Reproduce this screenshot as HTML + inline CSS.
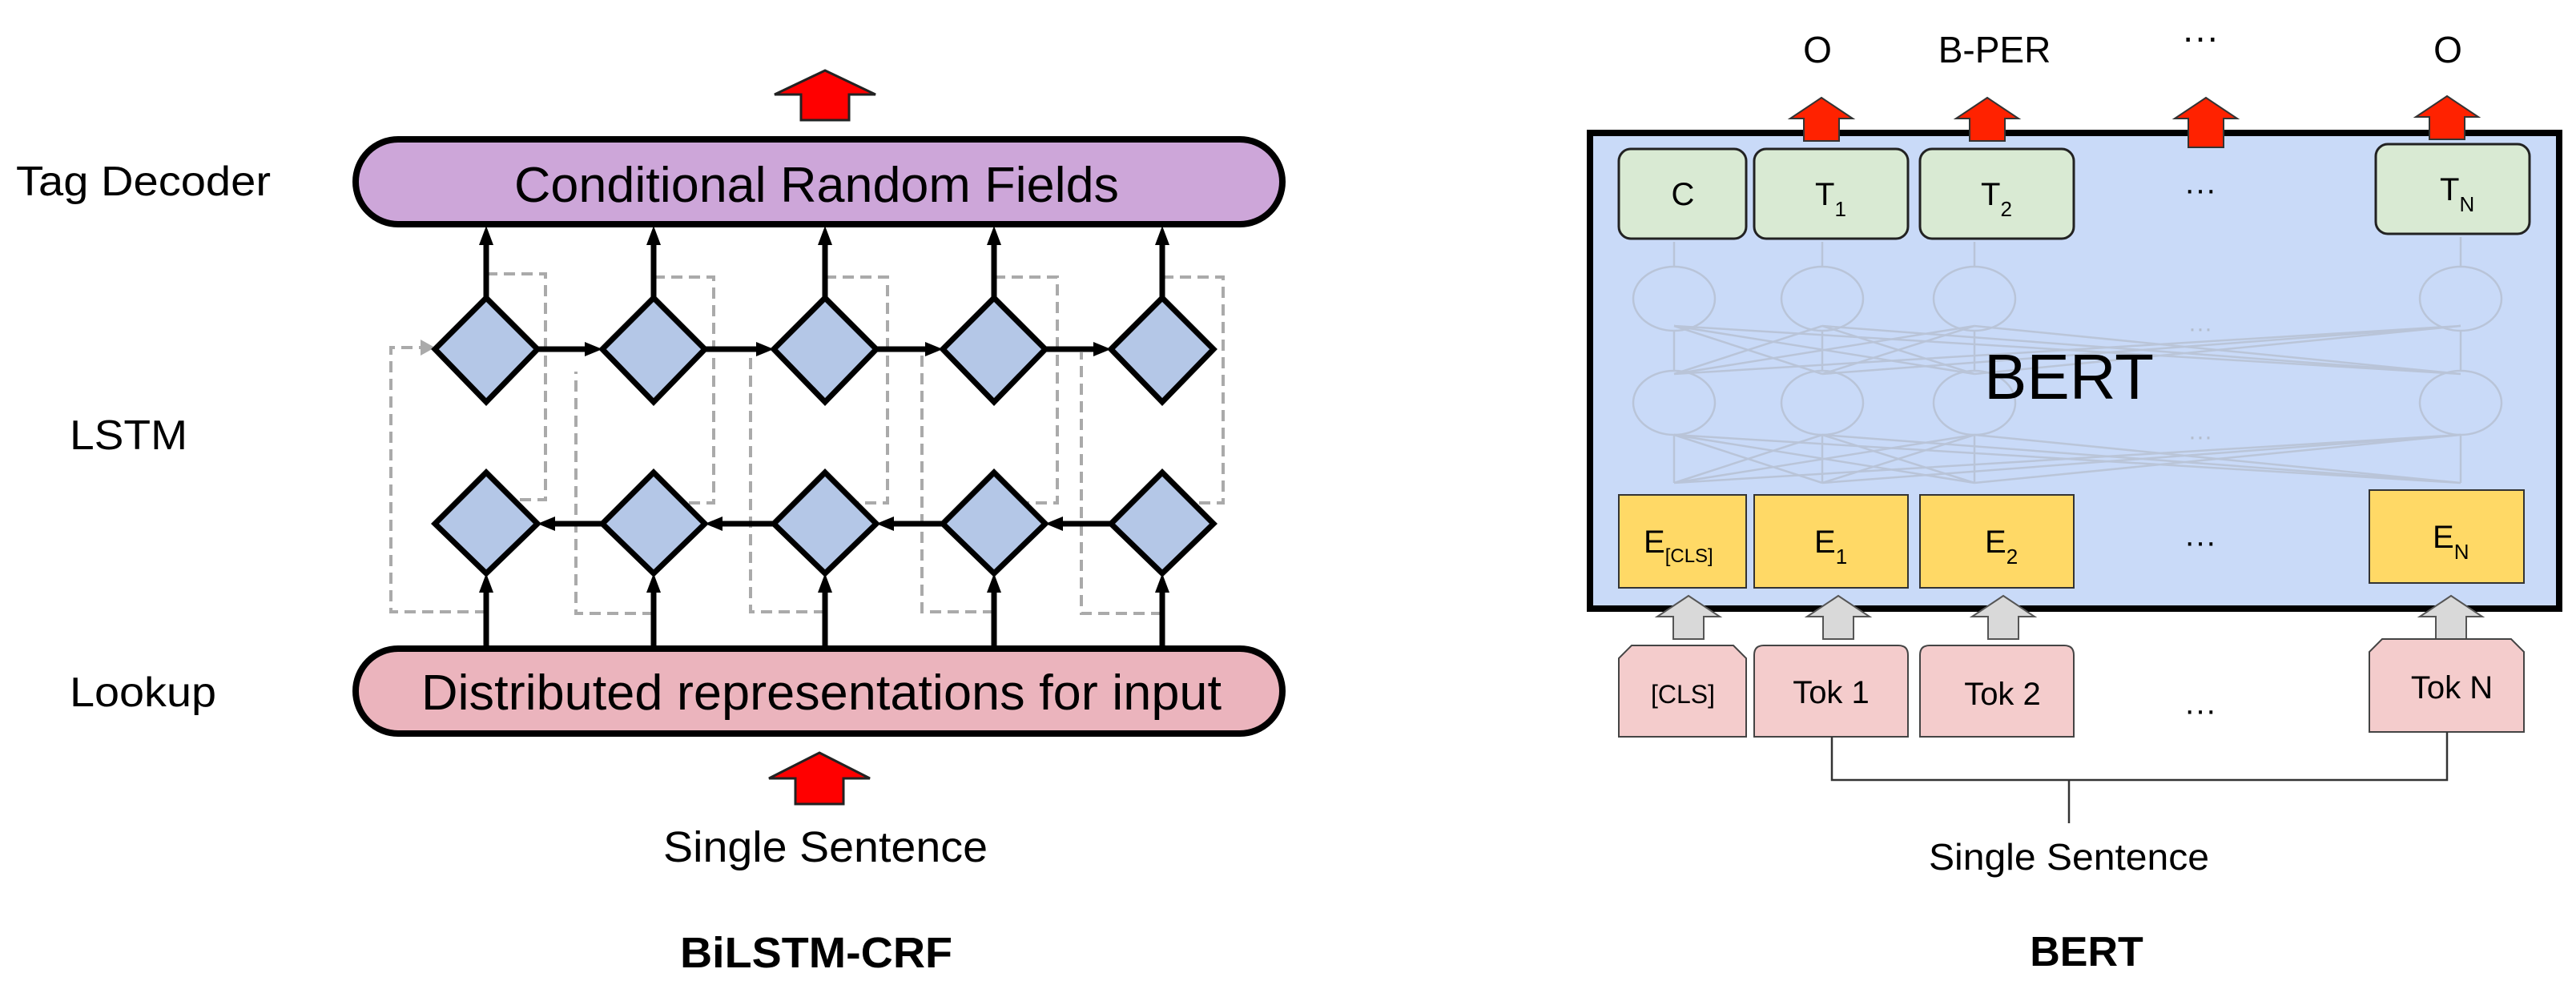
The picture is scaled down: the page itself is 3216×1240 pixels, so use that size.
<!DOCTYPE html>
<html><head><meta charset="utf-8"><style>
html,body{margin:0;padding:0;background:#fff;}
svg{display:block;font-family:"Liberation Sans",Arial,sans-serif;}
</style></head><body>
<svg width="3216" height="1240" viewBox="0 0 3216 1240" xmlns="http://www.w3.org/2000/svg">
<rect width="3216" height="1240" fill="#fff"/>
<!-- LEFT PANEL -->
<text x="20" y="244" font-size="52" textLength="318" lengthAdjust="spacingAndGlyphs">Tag Decoder</text>
<text x="87" y="561" font-size="52" textLength="147" lengthAdjust="spacingAndGlyphs">LSTM</text>
<text x="87" y="882" font-size="52" textLength="183" lengthAdjust="spacingAndGlyphs">Lookup</text>

<polygon points="1030,88 1093,118 1060,118 1060,150 1000,150 1000,118 967,118" fill="#ff0000" stroke="#222" stroke-width="3"/>
<rect x="444" y="174" width="1157" height="106" rx="53" fill="#cda6d9" stroke="#000" stroke-width="8"/>
<text x="642" y="252" font-size="62" textLength="755" lengthAdjust="spacingAndGlyphs">Conditional Random Fields</text>
<rect x="444" y="810" width="1157" height="106" rx="53" fill="#ebb4bd" stroke="#000" stroke-width="8"/>
<text x="526" y="886" font-size="62" textLength="999" lengthAdjust="spacingAndGlyphs">Distributed representations for input</text>

<g fill="none" stroke="#aaa" stroke-width="4" stroke-dasharray="14 8">
<path d="M607,342 H681 V624 H644"/>
<path d="M816,346 H891 V628 H852"/>
<path d="M1030,346 H1108 V628 H1066"/>
<path d="M1241,346 H1320 V628 H1277"/>
<path d="M1451,346 H1527 V628 H1487"/>
<path d="M607,764 H488 V434 H530"/>
<path d="M816,766 H719 V464"/>
<path d="M1030,764 H937 V440"/>
<path d="M1241,764 H1151 V440"/>
<path d="M1451,766 H1350 V440"/>
</g>
<polygon points="543,434 525,424 525,444" fill="#aaa"/>

<g stroke="#000" stroke-width="7" fill="none">
<line x1="607" y1="372" x2="607" y2="300"/><line x1="816" y1="372" x2="816" y2="300"/><line x1="1030" y1="372" x2="1030" y2="300"/><line x1="1241" y1="372" x2="1241" y2="300"/><line x1="1451" y1="372" x2="1451" y2="300"/>
<line x1="607" y1="810" x2="607" y2="736"/><line x1="816" y1="810" x2="816" y2="736"/><line x1="1030" y1="810" x2="1030" y2="736"/><line x1="1241" y1="810" x2="1241" y2="736"/><line x1="1451" y1="810" x2="1451" y2="736"/>
<line x1="671" y1="436" x2="735" y2="436"/><line x1="880" y1="436" x2="949" y2="436"/><line x1="1094" y1="436" x2="1160" y2="436"/><line x1="1305" y1="436" x2="1370" y2="436"/>
<line x1="752" y1="654" x2="689" y2="654"/><line x1="966" y1="654" x2="898" y2="654"/><line x1="1177" y1="654" x2="1112" y2="654"/><line x1="1387" y1="654" x2="1323" y2="654"/>
</g>
<g fill="#000">
<polygon points="607,282 598,306 616,306"/><polygon points="816,282 807,306 825,306"/><polygon points="1030,282 1021,306 1039,306"/><polygon points="1241,282 1232,306 1250,306"/><polygon points="1451,282 1442,306 1460,306"/>
<polygon points="607,716 598,740 616,740"/><polygon points="816,716 807,740 825,740"/><polygon points="1030,716 1021,740 1039,740"/><polygon points="1241,716 1232,740 1250,740"/><polygon points="1451,716 1442,740 1460,740"/>
<polygon points="752,436 730,427 730,445"/><polygon points="966,436 944,427 944,445"/><polygon points="1177,436 1155,427 1155,445"/><polygon points="1387,436 1365,427 1365,445"/>
<polygon points="671,654 693,645 693,663"/><polygon points="880,654 902,645 902,663"/><polygon points="1094,654 1116,645 1116,663"/><polygon points="1305,654 1327,645 1327,663"/>
</g>
<g fill="#b4c7e7" stroke="#000" stroke-width="7" stroke-linejoin="miter">
<polygon points="607,372 671,436 607,502 543,436"/>
<polygon points="816,372 880,436 816,502 752,436"/>
<polygon points="1030,372 1094,436 1030,502 966,436"/>
<polygon points="1241,372 1305,436 1241,502 1177,436"/>
<polygon points="1451,372 1515,436 1451,502 1387,436"/>
<polygon points="607,590 671,654 607,716 543,654"/>
<polygon points="816,590 880,654 816,716 752,654"/>
<polygon points="1030,590 1094,654 1030,716 966,654"/>
<polygon points="1241,590 1305,654 1241,716 1177,654"/>
<polygon points="1451,590 1515,654 1451,716 1387,654"/>
</g>
<polygon points="1023,940 1086,972 1053,972 1053,1004 993,1004 993,972 960,972" fill="#ff0000" stroke="#222" stroke-width="3"/>
<text x="828" y="1076" font-size="54" textLength="405" lengthAdjust="spacingAndGlyphs">Single Sentence</text>
<text x="849" y="1208" font-size="54" font-weight="bold" textLength="340" lengthAdjust="spacingAndGlyphs">BiLSTM-CRF</text>

<!-- RIGHT PANEL -->
<g font-size="46" text-anchor="middle">
<text x="2269" y="78">O</text>
<text x="2490" y="78">B-PER</text>
<text x="2747" y="62">···</text>
<text x="3056" y="78">O</text>
</g>
<rect x="1985" y="166" width="1210" height="594" fill="#c9daf8" stroke="#000" stroke-width="8"/>
<g stroke="#b3bccb" stroke-width="2.5" fill="none" opacity="0.7">
<ellipse cx="2090" cy="373" rx="51" ry="40"/><ellipse cx="2275" cy="373" rx="51" ry="40"/><ellipse cx="2465" cy="373" rx="51" ry="40"/><ellipse cx="3072" cy="373" rx="51" ry="40"/>
<ellipse cx="2090" cy="503" rx="51" ry="40"/><ellipse cx="2275" cy="503" rx="51" ry="40"/><ellipse cx="2465" cy="503" rx="51" ry="40"/><ellipse cx="3072" cy="503" rx="51" ry="40"/>
<line x1="2090" y1="333" x2="2090" y2="302"/><line x1="2275" y1="333" x2="2275" y2="302"/><line x1="2465" y1="333" x2="2465" y2="302"/><line x1="3072" y1="333" x2="3072" y2="296"/>
<line x1="2090" y1="463" x2="2090" y2="413"/><line x1="2275" y1="463" x2="2275" y2="413"/><line x1="2465" y1="463" x2="2465" y2="413"/><line x1="3072" y1="463" x2="3072" y2="413"/>
<line x1="2090" y1="603" x2="2090" y2="543"/><line x1="2275" y1="603" x2="2275" y2="543"/><line x1="2465" y1="603" x2="2465" y2="543"/><line x1="3072" y1="603" x2="3072" y2="543"/>
<path d="M2090,467 L2275,407 M2090,467 L2465,407 M2090,467 L3072,407 M2275,467 L2090,407 M2275,467 L2465,407 M2275,467 L3072,407 M2465,467 L2090,407 M2465,467 L2275,407 M2465,467 L3072,407 M3072,467 L2090,407 M3072,467 L2275,407 M3072,467 L2465,407"/>
<path d="M2090,603 L2275,543 M2090,603 L2465,543 M2090,603 L3072,543 M2275,603 L2090,543 M2275,603 L2465,543 M2275,603 L3072,543 M2465,603 L2090,543 M2465,603 L2275,543 M2465,603 L3072,543 M3072,603 L2090,543 M3072,603 L2275,543 M3072,603 L2465,543"/>
</g>
<text x="2747" y="420" font-size="30" fill="#b3bccb" text-anchor="middle">···</text>
<text x="2747" y="555" font-size="30" fill="#b3bccb" text-anchor="middle">···</text>
<text x="2583" y="498" font-size="80" text-anchor="middle">BERT</text>
<g fill="#ff2200" stroke="#333" stroke-width="2">
<polygon points="2274,122 2313,148 2296,148 2296,176 2252,176 2252,148 2235,148"/>
<polygon points="2481,122 2520,148 2503,148 2503,176 2459,176 2459,148 2442,148"/>
<polygon points="2754,122 2793,148 2776,148 2776,184 2732,184 2732,148 2715,148"/>
<polygon points="3055,120 3094,146 3077,146 3077,174 3033,174 3033,146 3016,146"/>
</g>
<g fill="#d9ead3" stroke="#222" stroke-width="3">
<rect x="2021" y="186" width="159" height="112" rx="15"/>
<rect x="2190" y="186" width="192" height="112" rx="15"/>
<rect x="2397" y="186" width="192" height="112" rx="15"/>
<rect x="2966" y="180" width="192" height="112" rx="15"/>
</g>
<g font-size="40">
<text x="2101" y="256" text-anchor="middle">C</text>
<text x="2266" y="256">T<tspan font-size="26" dy="14">1</tspan></text>
<text x="2473" y="256">T<tspan font-size="26" dy="14">2</tspan></text>
<text x="3046" y="250">T<tspan font-size="26" dy="14">N</tspan></text>
<text x="2747" y="250" text-anchor="middle">···</text>
<text x="2747" y="690" text-anchor="middle">···</text>
<text x="2747" y="900" text-anchor="middle">···</text>
</g>
<g fill="#ffd966" stroke="#333" stroke-width="2">
<rect x="2021" y="618" width="159" height="116"/>
<rect x="2190" y="618" width="192" height="116"/>
<rect x="2397" y="618" width="192" height="116"/>
<rect x="2958" y="612" width="193" height="116"/>
</g>
<g font-size="40">
<text x="2052" y="690">E<tspan font-size="24" dy="12">[CLS]</tspan></text>
<text x="2265" y="690">E<tspan font-size="26" dy="14">1</tspan></text>
<text x="2478" y="690">E<tspan font-size="26" dy="14">2</tspan></text>
<text x="3037" y="684">E<tspan font-size="26" dy="14">N</tspan></text>
</g>
<g fill="#d9d9d9" stroke="#555" stroke-width="2">
<polygon points="2108,744 2147,770 2127,770 2127,798 2089,798 2089,770 2069,770"/>
<polygon points="2295,744 2334,770 2314,770 2314,798 2276,798 2276,770 2256,770"/>
<polygon points="2501,744 2540,770 2520,770 2520,798 2482,798 2482,770 2462,770"/>
<polygon points="3060,744 3099,770 3079,770 3079,798 3041,798 3041,770 3021,770"/>
</g>
<g fill="#f4cccc" stroke="#444" stroke-width="2">
<path d="M2021,920 V822 L2037,806 H2164 L2180,822 V920 Z"/>
<path d="M2190,920 V818 Q2190,806 2202,806 H2370 Q2382,806 2382,818 V920 Z"/>
<path d="M2397,920 V818 Q2397,806 2409,806 H2577 Q2589,806 2589,818 V920 Z"/>
<path d="M2958,914 V814 L2974,798 H3135 L3151,814 V914 Z"/>
</g>
<g font-size="40" text-anchor="middle">
<text x="2101" y="878" font-size="32">[CLS]</text>
<text x="2286" y="878">Tok 1</text>
<text x="2500" y="880">Tok 2</text>
<text x="3061" y="872">Tok N</text>
</g>
<path d="M2287,920 V974 H3055 V914 M2583,974 V1028" fill="none" stroke="#333" stroke-width="2.5"/>
<text x="2583" y="1086" font-size="46" text-anchor="middle" textLength="350" lengthAdjust="spacingAndGlyphs">Single Sentence</text>
<text x="2605" y="1206" font-size="52" font-weight="bold" text-anchor="middle">BERT</text>
</svg>
</body></html>
